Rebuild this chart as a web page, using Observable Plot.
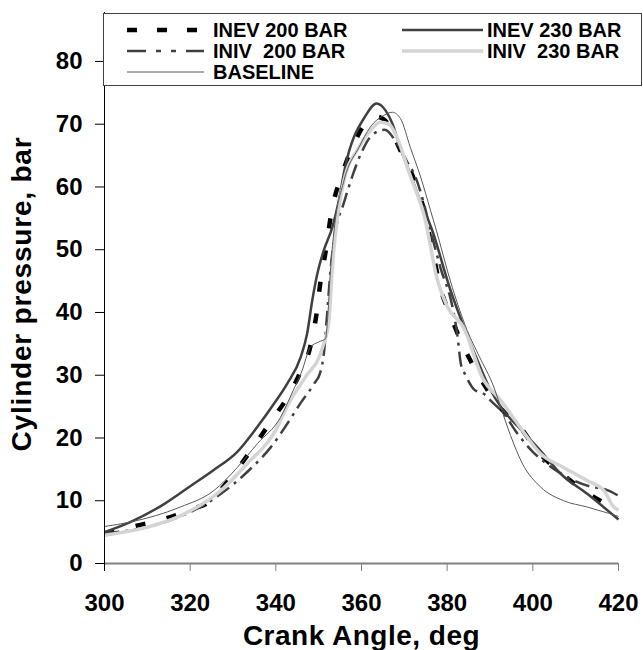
<!DOCTYPE html>
<html><head><meta charset="utf-8">
<script src="https://cdn.jsdelivr.net/npm/d3@7"></script>
<script src="https://cdn.jsdelivr.net/npm/@observablehq/plot@0.6"></script>
<style>
body{margin:0;background:#fff;}
#wrap{position:relative;width:643px;height:650px;font-family:"Liberation Sans",Arial,sans-serif;}
#legend{position:absolute;left:103px;top:13px;}
.xlab text{letter-spacing:0.5px;}
.ylab text{letter-spacing:0.8px;}
</style></head><body><div id="wrap"></div>
<script>
// ---- data ----
const seriesNames = ["INEV 200 BAR", "INEV 230 BAR", "INIV  200 BAR", "INIV  230 BAR", "BASELINE"];
const xTicks = [300, 320, 340, 360, 380, 400, 420];
const yTicks = [0, 10, 20, 30, 40, 50, 60, 70, 80];
const xLabel = "Crank Angle, deg";
const yLabel = "Cylinder pressure, bar";

const inev200Angle = [300,306,313,321,324,329,335,339,343,345.4,348.1,349.5,350.4,351.6,352.8,355.9,358.6,360.5,363.5,365.5,369.1,372.2,374.2,375.5,377,378.2,380.8,383.5,385.4,389,392.8,396.4,401,406.5,411.9,418.2,420];
const inev200P     = [4.8,5.8,6.9,8.8,9.6,13.3,18.8,22.8,26.8,30,34.7,39.8,44.8,49.6,55.2,62.9,67.4,69.8,71.2,70.6,65.8,61.3,57.3,53.5,48.5,44.5,39.5,35,32.4,28.1,24.5,22.3,18,14.5,11.6,9.0,8.2];

const inev230Angle = [300,306,314,320,325.5,331,335.7,339.6,342.7,345.8,347.3,348.5,349.7,351.2,353.2,354.7,356,361,363.5,365.6,367.2,369.1,371.1,373.1,376.5,380.8,383.9,387,390,393,397,402,406.5,412.7,420];
const inev230P     = [5.0,6.6,9.5,12.3,14.9,17.8,21.8,25.5,28.7,32.9,36.6,41.9,46.2,49.9,53.6,57.8,62.6,71.4,73.3,72.2,70.1,66.1,62.6,58.9,53.1,43.5,37.7,32.5,27.8,24.5,21.5,17.8,14.3,11.1,7.0];

const iniv200Angle = [300,310,316.2,325.5,334.1,338.8,342.7,346,348.9,350.4,351.3,352,352.8,353.8,355.9,358,360,362.5,365.4,368.3,370.5,372.6,374.5,376.5,378.5,381.2,382.4,383.2,384.3,386.2,389,390.1,393.2,396.4,400,404,408.8,413.8,416.6,420];
const iniv200P     = [4.8,5.8,7.1,10.3,15.1,18.5,22.3,25.8,28.6,30.5,34,40,47,52.5,57.5,62,65.5,68.3,69.1,66.9,64.2,61.6,57.5,52,47,41,36.3,31.8,30,27.8,26.8,26,23.9,20.7,17.8,15.5,13.5,12.2,11.9,10.8];

const iniv230Angle = [300,310,317.7,327.1,333.3,339.5,343.4,346.9,350.8,352.4,353.2,353.9,355.9,359.4,362.1,364.4,366.4,368.3,371,374.9,377.6,380,383.9,388.3,392.5,396.4,401.8,407.2,412.7,416.6,418.9,420];
const iniv230P     = [4.5,5.8,7.6,11.6,15.9,20.7,26,29.7,34.2,38.7,47.2,52.5,61,66.3,69,70.3,70,67.9,62.5,54.7,45.5,41,37.5,29.5,26,22.3,17.5,15.3,13.2,11.6,9.0,8.5];

const baseAngle = [300,306,317.7,325.5,331,335.7,341.1,344,346,348.1,350,351.6,352,352.8,353.5,355.9,359.4,362,365.2,367.2,369.1,371.4,373.8,376.1,377.3,381.2,384.7,387.5,390.9,392.5,394.8,397.5,401.8,407.2,412.7,417.7,420];
const baseP     = [5.9,6.6,9.0,11.6,15.3,19.1,23.3,27.5,30.5,34.5,35.3,35.8,38.2,47.2,52.5,61,66.3,69.5,71.4,71.9,70.9,66.3,61.6,56.3,53.5,44,37.1,33,28.1,24.9,20.4,16,12.2,10,9,8,7.5];

const angleArrays = [inev200Angle, inev230Angle, iniv200Angle, iniv230Angle, baseAngle];
const pArrays = [inev200P, inev230P, iniv200P, iniv230P, baseP];

// ---- styles ----
const styles = [
  {stroke: "#000000", width: 4.5, dash: "10,22", legendDash: "10,20"},
  {stroke: "#404040", width: 2.5, dash: null, legendDash: null},
  {stroke: "#404040", width: 2.5, dash: "15,6,3,6", legendDash: "19,10,5,10,5,10,19"},
  {stroke: "#d4d4d4", width: 3.5, dash: null, legendDash: null},
  {stroke: "#595959", width: 1, dash: null, legendDash: null}
];

const rows = [];
seriesNames.forEach((name, i) => angleArrays[i].forEach((a, j) => rows.push({series: name, angle: a, p: pArrays[i][j]})));

const font = "Liberation Sans, Arial, sans-serif";
const plot = Plot.plot({
  width: 643, height: 650,
  marginLeft: 104, marginRight: 25, marginTop: 12, marginBottom: 87,
  x: {domain: [300, 420]},
  y: {domain: [0, 87.8]},
  style: {fontFamily: font, fontWeight: "bold", background: "white", color: "#000"},
  marks: [
    ...seriesNames.map((name, i) => Plot.line(rows.filter(r => r.series === name), {
      x: "angle", y: "p", stroke: styles[i].stroke, strokeWidth: styles[i].width,
      strokeDasharray: styles[i].dash, curve: "monotone-x", strokeLinecap: "butt", strokeLinejoin: "round"
    })),
    Plot.ruleY([0], {stroke: "#808080", strokeWidth: 2}),
    Plot.ruleX([300], {stroke: "#000", strokeWidth: 1}),
    Plot.axisY({ticks: yTicks, tickSize: 9, tickPadding: 13, fontSize: 24, label: null, stroke: "#000"}),
    Plot.axisX({ticks: [xTicks[0]], tickSize: 8, tickPadding: 22, fontSize: 24, label: null, stroke: "#000"}),
    Plot.axisX({ticks: xTicks.slice(1), tickSize: 8, tickPadding: 22, fontSize: 24, label: null, stroke: "#808080"}),
    Plot.text([xLabel], {text: d => d, frameAnchor: "bottom", textAnchor: "middle", lineAnchor: "middle", dy: 73, dx: 0, fontSize: 28, fontWeight: "bold", className: "xlab"}),
    Plot.text([yLabel], {text: d => d, frameAnchor: "left", textAnchor: "middle", lineAnchor: "middle", rotate: -90, dx: -82, dy: 6, fontSize: 28, fontWeight: "bold", className: "ylab"})
  ]
});
const wrap = document.getElementById("wrap");
wrap.appendChild(plot);

// ---- legend ----
const leg = d3.create("svg").attr("id", "legend").attr("width", 540).attr("height", 74);
leg.append("rect").attr("x", 0.5).attr("y", 0.5).attr("width", 538).attr("height", 72)
  .attr("fill", "#fff").attr("stroke", "#404040").attr("stroke-width", 1);
const symX = [[24, 101], [299, 380]];
const txtX = [110, 384];
const baseY = [24, 45, 66];
seriesNames.forEach((name, i) => {
  const col = i % 2, row = Math.floor(i / 2);
  const s = styles[i];
  leg.append("line").attr("x1", symX[col][0]).attr("x2", symX[col][1])
    .attr("y1", baseY[row] - 7).attr("y2", baseY[row] - 7)
    .attr("stroke", s.stroke).attr("stroke-width", s.width)
    .attr("stroke-dasharray", s.legendDash);
  leg.append("text").attr("x", txtX[col]).attr("y", baseY[row])
    .attr("font-family", font).attr("font-weight", "bold").attr("font-size", 20)
    .style("white-space", "pre").attr("xml:space", "preserve").text(name);
});
wrap.appendChild(leg.node());
</script></body></html>
